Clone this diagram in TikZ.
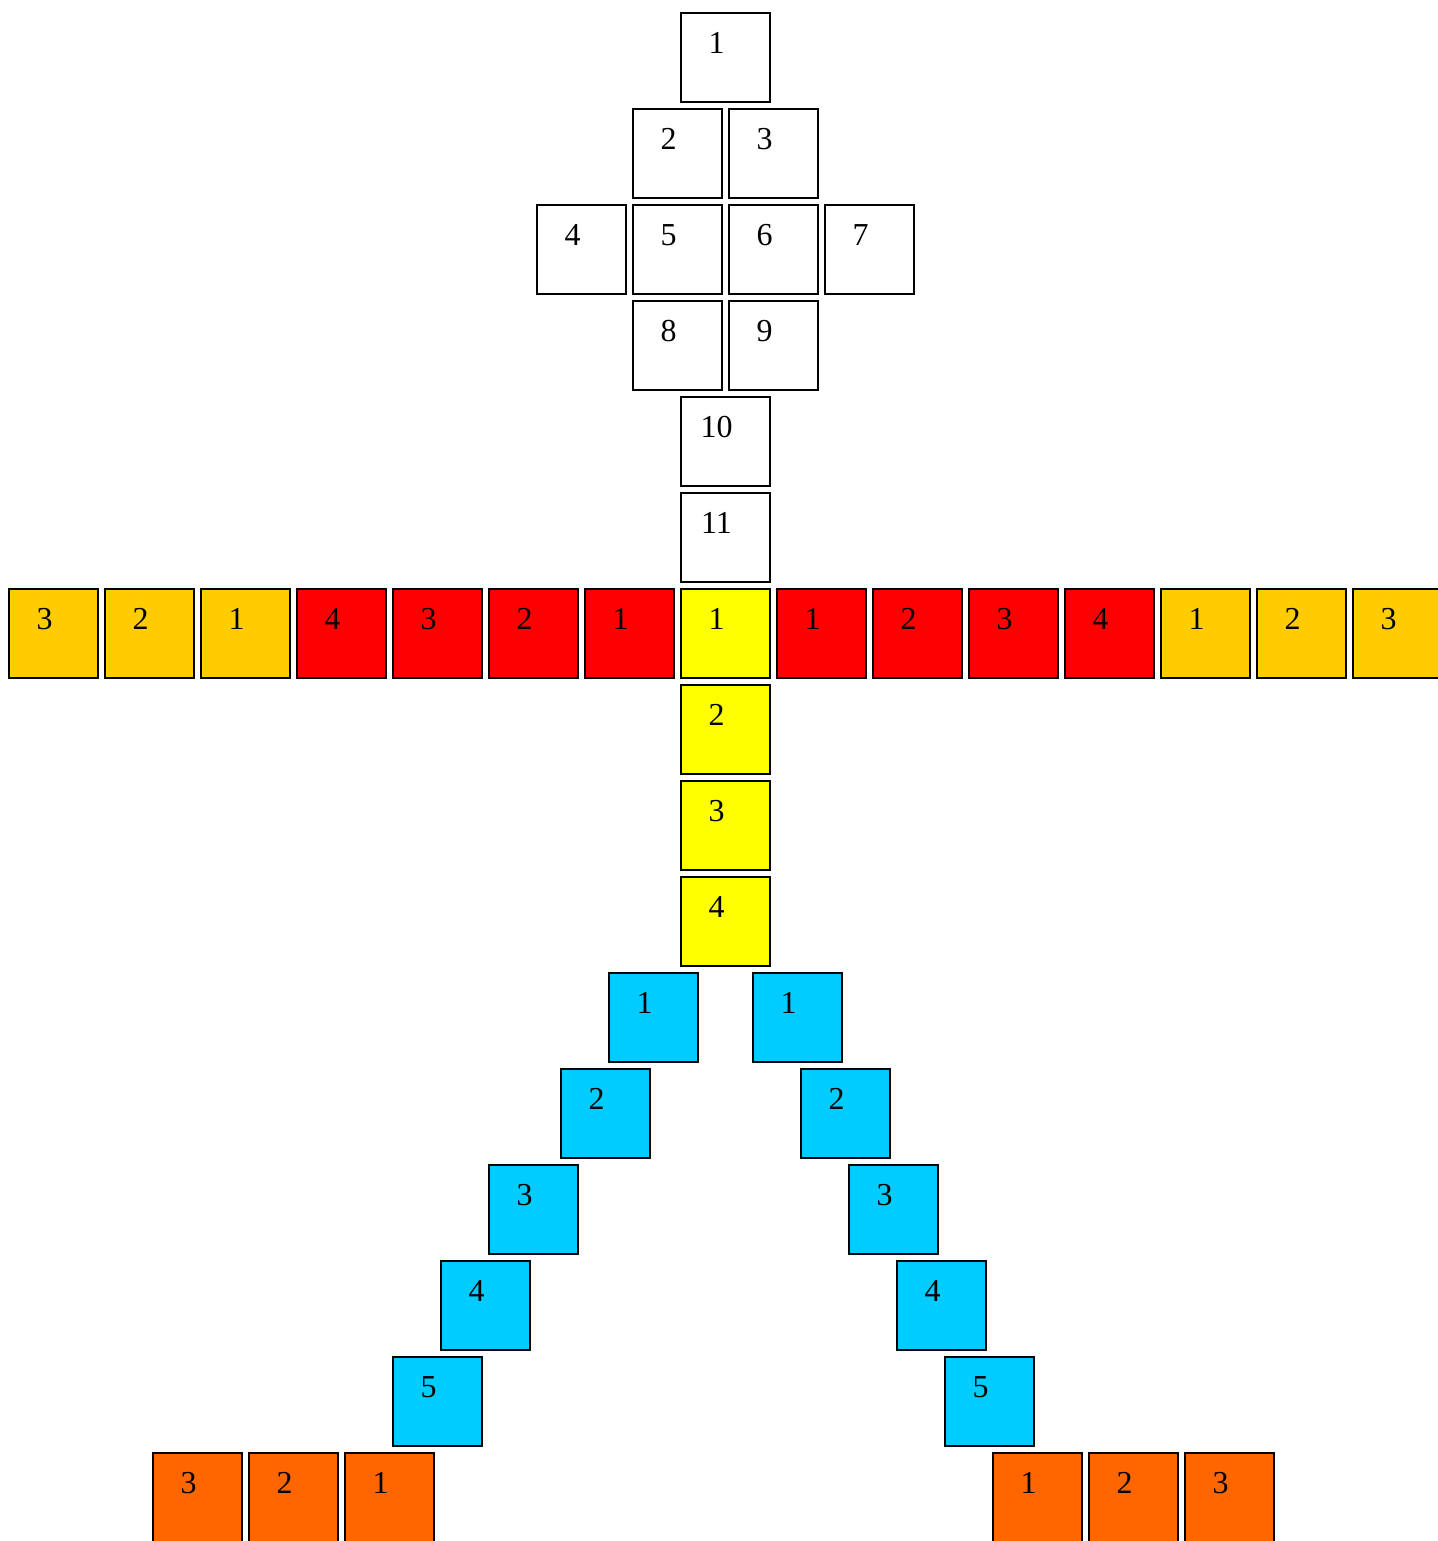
\documentclass[tikz,border=0pt]{standalone}
\usepackage{fontspec}
\setmainfont{Liberation Serif}
\usetikzlibrary{positioning}
\definecolor{armgold}{HTML}{FFCC00}
\definecolor{armred}{HTML}{FF0000}
\definecolor{bodyyellow}{HTML}{FFFF00}
\definecolor{legcyan}{HTML}{00CCFF}
\definecolor{footorange}{HTML}{FF6600}
\tikzset{
  cellnum/.style={font=\fontsize{9.1}{10}\selectfont, xshift=-0.09cm, yshift=0.145cm},
  sq/.style={draw, line width=0.02cm, minimum size=0.89cm, inner sep=0pt,
    fill=white, label={[cellnum]center:#1}}
}

\begin{document}
\begin{tikzpicture}[node distance=0.05cm]
    \useasboundingbox (0,0) rectangle (14.37,-15.41);
    % head
    \node[sq=1] (h1) at (7.255,-0.575) {};
    \node[sq=2] (h2) at (6.775,-1.535) {};
    \node[sq=3, right=of h2] (h3) {};
    \node[sq=5, below=of h2] (h5) {};
    \node[sq=4, left=of h5] (h4) {};
    \node[sq=6, right=of h5] (h6) {};
    \node[sq=7, right=of h6] (h7) {};
    \node[sq=8, below=of h5] (h8) {};
    \node[sq=9, right=of h8] (h9) {};
    \node[sq=10] (h10) at (7.255,-4.415) {};
    \node[sq=11, below=of h10] (h11) {};
    % body
    \node[sq=1, fill=bodyyellow, below=of h11] (b1) {};
    \node[sq=2, fill=bodyyellow, below=of b1] (b2) {};
    \node[sq=3, fill=bodyyellow, below=of b2] (b3) {};
    \node[sq=4, fill=bodyyellow, below=of b3] (b4) {};
    % left arm
    \node[sq=1, fill=armred, left=of b1] (lr1) {};
    \node[sq=2, fill=armred, left=of lr1] (lr2) {};
    \node[sq=3, fill=armred, left=of lr2] (lr3) {};
    \node[sq=4, fill=armred, left=of lr3] (lr4) {};
    \node[sq=1, fill=armgold, left=of lr4] (lg1) {};
    \node[sq=2, fill=armgold, left=of lg1] (lg2) {};
    \node[sq=3, fill=armgold, left=of lg2] (lg3) {};
    % right arm
    \node[sq=1, fill=armred, right=of b1] (rr1) {};
    \node[sq=2, fill=armred, right=of rr1] (rr2) {};
    \node[sq=3, fill=armred, right=of rr2] (rr3) {};
    \node[sq=4, fill=armred, right=of rr3] (rr4) {};
    \node[sq=1, fill=armgold, right=of rr4] (rg1) {};
    \node[sq=2, fill=armgold, right=of rg1] (rg2) {};
    \node[sq=3, fill=armgold, right=of rg2] (rg3) {};
    % left leg
    \node[sq=1, fill=legcyan] (ll1) at (6.535,-10.175) {};
    \node[sq=2, fill=legcyan] (ll2) at (6.055,-11.135) {};
    \node[sq=3, fill=legcyan] (ll3) at (5.335,-12.095) {};
    \node[sq=4, fill=legcyan] (ll4) at (4.855,-13.055) {};
    \node[sq=5, fill=legcyan] (ll5) at (4.375,-14.015) {};
    % right leg
    \node[sq=1, fill=legcyan] (rl1) at (7.975,-10.175) {};
    \node[sq=2, fill=legcyan] (rl2) at (8.455,-11.135) {};
    \node[sq=3, fill=legcyan] (rl3) at (8.935,-12.095) {};
    \node[sq=4, fill=legcyan] (rl4) at (9.415,-13.055) {};
    \node[sq=5, fill=legcyan] (rl5) at (9.895,-14.015) {};
    % feet
    \node[sq=1, fill=footorange] (lf1) at (3.895,-14.975) {};
    \node[sq=2, fill=footorange, left=of lf1] (lf2) {};
    \node[sq=3, fill=footorange, left=of lf2] (lf3) {};
    \node[sq=1, fill=footorange] (rf1) at (10.375,-14.975) {};
    \node[sq=2, fill=footorange, right=of rf1] (rf2) {};
    \node[sq=3, fill=footorange, right=of rf2] (rf3) {};
\end{tikzpicture}
\end{document}
